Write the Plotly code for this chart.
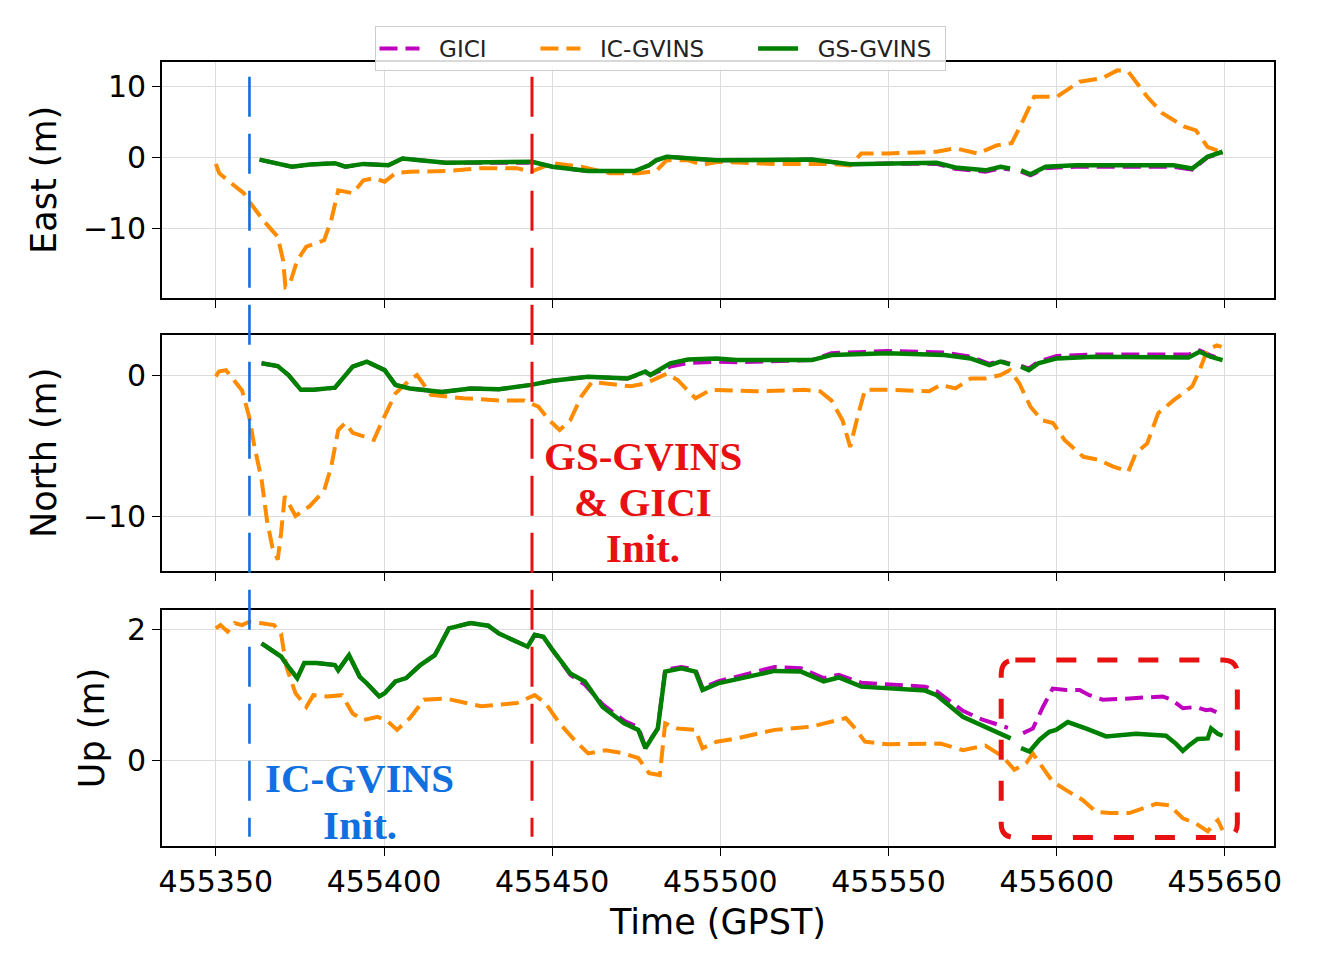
import plotly.graph_objects as go
from plotly.subplots import make_subplots

# ---------------- data ----------------
# East (m)
t_east_ic = [455350, 455351, 455354.6, 455358.3, 455360, 455364.1, 455368.4, 455370, 455370.7, 455372,
             455374.2, 455376.9, 455382.2, 455384.3, 455386.4, 455390.7, 455393.9, 455397, 455400.2, 455403.4,
             455407.7, 455418.3, 455428.9, 455439.5, 455443.7, 455450.1, 455458.6, 455467.1, 455475.6, 455480.9,
             455484, 455490.4, 455494.7, 455499.4, 455516.1, 455533, 455538.6, 455541.9, 455549.7, 455564.3,
             455569.8, 455576.6, 455582.1, 455586.6, 455590, 455593.3, 455600, 455606.8, 455613.5, 455618,
             455621.3, 455626.9, 455631.4, 455638, 455641.4, 455644.8, 455648.7, 455650]
east_ic = [-0.9, -2.2, -3.6, -5.0, -6.2, -8.8, -11.1, -14.4, -18.1, -17.7,
           -14.4, -12.5, -11.6, -8.8, -4.6, -5.0, -3.2, -2.9, -3.4, -2.2,
           -2.0, -1.9, -1.5, -1.5, -2.0, -0.8, -1.3, -2.2, -2.2, -1.9,
           -0.4, -0.4, -1.0, -0.6, -0.9, -0.9, -1.1, 0.55, 0.55, 0.8,
           1.3, 0.55, 1.7, 2.0, 5.2, 8.5, 8.5, 10.6, 11.1, 12.2,
           12.0, 8.5, 6.2, 4.3, 3.8, 1.5, 0.8, 0.5]

t_east_gs = [455363, 455367.3, 455372.6, 455378, 455385.4, 455388.5, 455393.9, 455401.3, 455405.5, 455418.3,
             455442.7, 455444, 455450.1, 455460.7, 455474.5, 455478.8, 455480.9, 455484, 455498.9, 455527.2,
             455538.6, 455549.7, 455564.3, 455569.8, 455578.8, 455583.3, 455586.1, 455587.7, 455589.4, 455592.2,
             455596.7, 455605.6, 455634.7, 455640.3, 455644.8, 455649.3]
east_gs = [-0.3, -0.7, -1.3, -1.0, -0.8, -1.3, -0.9, -1.1, -0.15, -0.75,
           -0.75, -0.6, -1.3, -1.9, -1.9, -1.1, -0.4, 0.1, -0.4, -0.3,
           -0.95, -0.85, -0.75, -1.4, -1.8, -1.3, -1.55, None, -1.8, -2.35,
           -1.3, -1.1, -1.1, -1.55, 0.1, 0.8]
east_gici = [-0.3, -0.7, -1.3, -1.0, -0.8, -1.3, -0.9, -1.1, -0.15, -0.75,
             -0.75, -0.6, -1.3, -1.9, -1.9, -1.1, -0.4, 0.1, -0.4, -0.3,
             -0.95, -0.85, -0.9, -1.6, -2.0, -1.5, -1.7, None, -2.0, -2.5,
             -1.5, -1.3, -1.3, -1.7, 0.0, 0.7]

# North (m)
t_north_ic = [455350, 455350.9, 455353, 455354.6, 455357.8, 455359.9, 455361.5, 455363.6, 455365.2, 455366.8,
              455368.4, 455369.4, 455370.5, 455373.7, 455377.9, 455382.2, 455384.3, 455386.4, 455388.5, 455390.7,
              455397, 455399.2, 455403.4, 455407.7, 455409.8, 455414, 455423.6, 455434.2, 455441.6, 455445.9,
              455449.1, 455452.2, 455455.4, 455458.6, 455461.8, 455473.4, 455477.7, 455484.1, 455487.3, 455492.6,
              455497.2, 455510.6, 455525.1, 455529.6, 455533, 455536.3, 455538.6, 455540.8, 455543, 455549.8,
              455562.1, 455565.5, 455569.9, 455574.4, 455578.8, 455583.3, 455586.1, 455588.9, 455592.2, 455595.6,
              455598.9, 455602.3, 455607.9, 455612.3, 455616.8, 455621.3, 455623.5, 455626.9, 455630.2, 455634.7,
              455640.3, 455642.5, 455644.8, 455647.6, 455649]
north_ic = [-0.1, 0.25, 0.35, -0.1, -1.1, -2.95, -5.1, -7.4, -10.3, -12.2,
            -13.1, -11.2, -8.6, -10.0, -9.3, -8.2, -6.5, -3.9, -3.4, -4.1,
            -4.6, -3.4, -1.3, -0.35, 0.0, -1.4, -1.65, -1.8, -1.8, -2.25,
            -3.2, -3.9, -3.2, -1.55, -0.5, -0.8, -0.6, 0.1, -0.35, -1.65,
            -1.05, -1.15, -1.05, -1.15, -1.8, -3.2, -5.1, -2.95, -1.05, -1.05,
            -1.15, -0.7, -0.95, -0.25, -0.25, 0.0, 0.35, -0.6, -2.25, -3.2,
            -3.4, -4.6, -5.8, -6.0, -6.5, -6.85, -5.55, -4.85, -2.7, -1.8,
            -0.8, 0.35, 1.8, 2.1, 2.0]

t_north_gs = [455363.6, 455368.4, 455371.6, 455375.3, 455379, 455385.4, 455390.7, 455394.9, 455400.2, 455403.4,
              455407.7, 455417.2, 455425.7, 455434.2, 455443.7, 455450.1, 455460.7, 455472.4, 455477.7, 455479.2,
              455485.1, 455490.4, 455498.9, 455504.9, 455527.2, 455533, 455549.8, 455566.6, 455574.4, 455580,
              455583.3, 455586.1, 455587.7, 455589.4, 455591.7, 455594.5, 455600, 455611.2, 455639.2, 455642.5,
              455645.7, 455649.3]
north_gs = [0.83, 0.64, 0.0, -1.05, -1.05, -0.9, 0.6, 0.95, 0.35, -0.7,
            -0.95, -1.2, -0.95, -1.0, -0.7, -0.4, -0.12, -0.25, 0.25, 0.0,
            0.83, 1.1, 1.18, 1.06, 1.06, 1.42, 1.54, 1.42, 1.18, 0.71,
            0.95, 0.75, None, 0.6, 0.35, 0.83, 1.18, 1.3, 1.25, 1.65,
            1.3, 1.06]
north_gici = [0.83, 0.64, 0.0, -1.05, -1.05, -0.9, 0.6, 0.95, 0.35, -0.7,
              -0.95, -1.2, -0.95, -1.0, -0.7, -0.4, -0.12, -0.25, 0.2, 0.0,
              0.6, 0.85, 0.95, 0.9, 1.06, 1.55, 1.7, 1.6, 1.3, 0.8,
              1.0, 0.8, None, 0.65, 0.45, 0.95, 1.35, 1.45, 1.45, 1.75,
              1.4, 1.1]

# Up (m)
t_up_ic = [455350, 455351.4, 455353.5, 455355.6, 455357.8, 455359.9, 455363.1, 455367.3, 455369.4, 455371,
           455373.7, 455376.9, 455379, 455383.3, 455387.5, 455390.7, 455393.9, 455398.1, 455401.3, 455403.9,
           455407.7, 455411.9, 455418.3, 455428.9, 455439.5, 455444.8, 455448, 455452.2, 455456.5, 455460.7,
           455466, 455471.3, 455475.6, 455478.8, 455482, 455483.6, 455487.3, 455492.6, 455494.7, 455498.9,
           455504.9, 455516.1, 455527.2, 455537.3, 455539.6, 455543, 455549.7, 455565.4, 455572.1, 455578.8,
           455584, 455587.4, 455590.9, 455592.9, 455594.9, 455598.8, 455602.8, 455607.7, 455611.7, 455615.7,
           455621.6, 455625.6, 455629.5, 455633.5, 455637.5, 455641.4, 455644.9, 455646.4, 455647.9, 455649.3]
up_ic = [2.01, 2.06, 1.96, 2.09, 2.06, 2.11, 2.09, 2.06, 1.93, 1.42,
         1.02, 0.81, 0.99, 0.97, 0.99, 0.71, 0.61, 0.66, 0.58, 0.46,
         0.64, 0.92, 0.94, 0.82, 0.87, 0.99, 0.87, 0.56, 0.31, 0.10,
         0.15, 0.10, 0.03, -0.2, -0.23, 0.56, 0.48, 0.46, 0.18, 0.28,
         0.33, 0.46, 0.51, 0.64, 0.51, 0.28, 0.24, 0.25, 0.15, 0.22,
         0.05, -0.15, -0.05, 0.10, -0.05, -0.33, -0.46, -0.61, -0.79, -0.81,
         -0.81, -0.74, -0.67, -0.69, -0.89, -0.97, -1.09, -0.99, -0.92, -1.07]

t_up_gs = [455363.6, 455366.3, 455369.4, 455371.6, 455374.2, 455376.3, 455380, 455385.4, 455386.4, 455389.6,
           455392.8, 455394.9, 455398.6, 455400.2, 455403.4, 455406.6, 455410.8, 455415.1, 455419.3, 455425.7,
           455431, 455434.2, 455439.5, 455442.7, 455444.8, 455447.4, 455450.1, 455455.4, 455459.7, 455465,
           455471.4, 455475.6, 455477.7, 455481.4, 455483.6, 455488.4, 455492.6, 455494.7, 455499.3, 455516.1,
           455524, 455530.7, 455535.2, 455541.9, 455560.9, 455564.3, 455572.1, 455577.7, 455586.3, 455587.9,
           455589.4, 455591.9, 455594.9, 455597.8, 455599.8, 455603.3, 455608.8, 455614.7, 455623.6, 455632.5,
           455635.4, 455637.5, 455639.5, 455641.9, 455644.9, 455645.9, 455647.9, 455649.3]
up_gs = [1.78, 1.68, 1.58, 1.42, 1.25, 1.48, 1.48, 1.45, 1.37, 1.6,
         1.27, 1.17, 0.97, 1.02, 1.2, 1.25, 1.45, 1.6, 2.01, 2.09,
         2.05, 1.93, 1.81, 1.73, 1.91, 1.88, 1.68, 1.32, 1.2, 0.81,
         0.56, 0.46, 0.18, 0.48, 1.35, 1.4, 1.35, 1.07, 1.17, 1.36,
         1.35, 1.2, 1.26, 1.12, 1.06, 0.99, 0.66, 0.53, 0.33, None,
         0.18, 0.13, 0.31, 0.43, 0.46, 0.58, 0.48, 0.36, 0.40, 0.37,
         0.25, 0.14, 0.23, 0.32, 0.33, 0.48, 0.40, 0.37]

t_up_gici = [455363.6, 455366.3, 455369.4, 455371.6, 455374.2, 455376.3, 455380, 455385.4, 455386.4, 455389.6,
             455392.8, 455394.9, 455398.6, 455400.2, 455403.4, 455406.6, 455410.8, 455415.1, 455419.3, 455425.7,
             455431, 455434.2, 455439.5, 455442.7, 455444.8, 455447.4, 455450.1, 455455.4, 455459.7, 455465,
             455471.4, 455475.6, 455477.7, 455481.4, 455483.6, 455488.4, 455492.6, 455494.7, 455499.3, 455516.1,
             455524, 455530.7, 455535.2, 455541.9, 455560.9, 455564.3, 455572.1, 455577.7, 455585.5, 455587.8,
             455590, 455592.9, 455595.9, 455598.8, 455602.8, 455606.8, 455609.7, 455613.7, 455621.6, 455631.5,
             455634.2, 455637.5, 455641.4, 455644.4, 455645.8, 455648.4]
up_gici = [1.78, 1.68, 1.58, 1.42, 1.25, 1.48, 1.48, 1.45, 1.37, 1.6,
           1.27, 1.17, 0.97, 1.02, 1.2, 1.25, 1.45, 1.6, 2.01, 2.09,
           2.05, 1.93, 1.81, 1.73, 1.91, 1.88, 1.68, 1.3, 1.15, 0.85,
           0.6, 0.5, 0.2, 0.48, 1.38, 1.42, 1.38, 1.1, 1.2, 1.42,
           1.4, 1.25, 1.3, 1.18, 1.12, 1.05, 0.75, 0.62, 0.49, None,
           0.41, 0.48, 0.81, 1.09, 1.07, 1.07, 0.99, 0.92, 0.94, 0.97,
           0.92, 0.79, 0.81, 0.76, 0.77, 0.71]

x_ticks = [455350, 455400, 455450, 455500, 455550, 455600, 455650]
ic_init_t = 455360
gs_init_t = 455444

# ---------------- figure ----------------
C_GICI = "#BF00BF"
C_IC = "#FF8C00"
C_GS = "#008000"
FONT = "DejaVu Sans"
NB = "\u00a0"

# page body adds an 8px offset; figure is sized so the plot lands where the reference has it
OFF = 8
FIG_W, FIG_H = 1320 - OFF, 964 - OFF

fig = make_subplots(rows=3, cols=1, shared_xaxes=True, vertical_spacing=0.05)

panels = [
    (t_east_gs, east_gici, t_east_ic, east_ic, t_east_gs, east_gs),
    (t_north_gs, north_gici, t_north_ic, north_ic, t_north_gs, north_gs),
    (t_up_gici, up_gici, t_up_ic, up_ic, t_up_gs, up_gs),
]
def lname(s, trail=6):
    return NB * 2 + s + NB * trail

for i, (tg, yg, ti, yi, ts, ys) in enumerate(panels):
    r = i + 1
    fig.add_trace(go.Scatter(x=tg, y=yg, mode="lines", name=lname("GICI"), legendgroup="gici",
                             showlegend=(r == 1),
                             line=dict(color=C_GICI, width=4, dash="18px,8px")), row=r, col=1)
    fig.add_trace(go.Scatter(x=ti, y=yi, mode="lines", name=lname("IC-GVINS"), legendgroup="ic",
                             showlegend=(r == 1),
                             line=dict(color=C_IC, width=4, dash="18px,8px")), row=r, col=1)
    fig.add_trace(go.Scatter(x=ts, y=ys, mode="lines", name=lname("GS-GVINS", 1), legendgroup="gs",
                             showlegend=(r == 1),
                             line=dict(color=C_GS, width=4.5)), row=r, col=1)

axis_common = dict(showline=True, linecolor="black", linewidth=1.6, mirror=True,
                   ticks="outside", ticklen=8, tickwidth=1.4, tickcolor="black",
                   showgrid=True, gridcolor="#dcdcdc", gridwidth=1, zeroline=False,
                   tickfont=dict(family=FONT, size=30, color="black"))

x_range = [455334.0, 455664.6]
for r in (1, 2, 3):
    fig.update_xaxes(range=x_range, tickvals=x_ticks, ticktext=[str(v) for v in x_ticks],
                     showticklabels=(r == 3), row=r, col=1, **axis_common)
fig.update_xaxes(title=dict(text="Time (GPST)", font=dict(family=FONT, size=35, color="black"),
                            standoff=12), row=3, col=1)

fig.update_yaxes(range=[-19.64, 13.37], tickvals=[-10, 0, 10], row=1, col=1, **axis_common,
                 title=dict(text="East (m)", font=dict(family=FONT, size=35, color="black"), standoff=16))
fig.update_yaxes(range=[-13.88, 2.84], tickvals=[-10, 0], row=2, col=1, **axis_common,
                 title=dict(text="North (m)", font=dict(family=FONT, size=35, color="black"), standoff=16))
fig.update_yaxes(range=[-1.313, 2.29], tickvals=[0, 2], row=3, col=1, **axis_common,
                 title=dict(text="Up (m)", font=dict(family=FONT, size=35, color="black"), standoff=12))

H_PLOT = 784.0
def py2paper(py):
    return (846.0 - py) / H_PLOT

fig.update_layout(
    yaxis=dict(domain=[py2paper(297.7), 1.0]),
    yaxis2=dict(domain=[py2paper(570.7), py2paper(335.0)]),
    yaxis3=dict(domain=[0.0, py2paper(610.0)]),
)

# vertical init lines spanning all panels
for tx, col, w in ((ic_init_t, "#1070E0", 2.6), (gs_init_t, "#E81010", 3.0)):
    fig.add_shape(type="line", xref="x", yref="paper", x0=tx, x1=tx,
                  y0=py2paper(76.7), y1=py2paper(836.7),
                  line=dict(color=col, width=w, dash="40px,17px"))

# rounded dashed highlight box in Up panel
bx0, bx1 = 455583.5, 455653.7
by0, by1 = -1.183, 1.527
rx, ry = 4.2, 0.215
path = (f"M {bx0+rx},{by1} L {bx1-rx},{by1} Q {bx1},{by1} {bx1},{by1-ry} "
        f"L {bx1},{by0+ry} Q {bx1},{by0} {bx1-rx},{by0} "
        f"L {bx0+rx},{by0} Q {bx0},{by0} {bx0},{by0+ry} "
        f"L {bx0},{by1-ry} Q {bx0},{by1} {bx0+rx},{by1} Z")
fig.add_shape(type="path", path=path, xref="x3", yref="y3",
              line=dict(color="#E81010", width=5, dash="20px,21px"))

SERIF = "Liberation Serif"
red_lines = [("<b>GS-GVINS</b>", 456), ("<b>& GICI</b>", 502), ("<b>Init.</b>", 548)]
for txt, py in red_lines:
    fig.add_annotation(text=txt, x=455476.9, xref="x", y=py2paper(py), yref="paper",
                       xanchor="center", yanchor="middle", showarrow=False,
                       font=dict(family=SERIF, size=41, color="#E81010"))
blue_lines = [("<b>IC-GVINS</b>", 778), ("<b>Init.</b>", 825)]
for txt, py in blue_lines:
    fig.add_annotation(text=txt, x=455392.8, xref="x", y=py2paper(py), yref="paper",
                       xanchor="center", yanchor="middle", showarrow=False,
                       font=dict(family=SERIF, size=41, color="#1070E0"))

fig.update_layout(
    width=FIG_W, height=FIG_H,
    margin=dict(l=162 - OFF, r=46, t=62 - OFF, b=118, autoexpand=False),
    paper_bgcolor="white", plot_bgcolor="white",
    font=dict(family=FONT, color="black"),
    legend=dict(orientation="h", xref="container", yref="container",
                x=(660 - OFF) / FIG_W, xanchor="center", y=1 - (26 - OFF) / FIG_H, yanchor="top",
                bgcolor="rgba(255,255,255,0.85)", bordercolor="#cccccc", borderwidth=1,
                font=dict(family=FONT, size=23, color="#222222"),
                itemwidth=40, tracegroupgap=0),
)

fig.write_html("out.html")
